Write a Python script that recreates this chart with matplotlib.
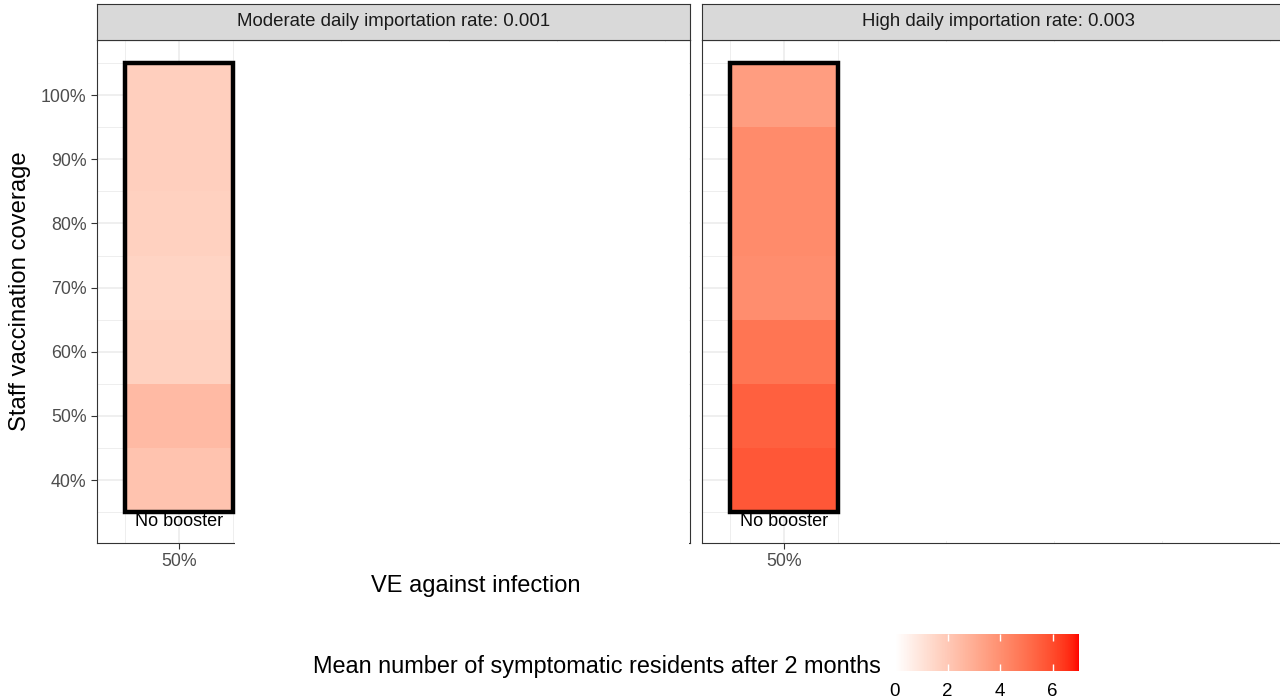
import numpy as np
import matplotlib
matplotlib.use("Agg")
from matplotlib import pyplot as plt
from matplotlib.colors import ListedColormap, Normalize
from matplotlib.patches import Rectangle
from matplotlib.cm import ScalarMappable

plt.rcParams['font.family'] = ['Liberation Sans', 'DejaVu Sans']

# data
ve = [50]
coverage = [40, 50, 60, 70, 80, 90, 100]
moderate = [2.2, 2.5, 1.7, 1.6, 1.7, 1.75, 1.75]
high = [5.7, 5.45, 4.85, 4.05, 4.15, 4.15, 3.55]
panel_titles = ["Moderate daily importation rate: 0.001",
                "High daily importation rate: 0.003"]
cbar_ticks = [0, 2, 4, 6]
vmin, vmax = 0, 7.0


def lab2rgb(L, a, b):
    fy = (L + 16) / 116
    fx = fy + a / 500
    fz = fy - b / 200
    def finv(t):
        return np.where(t > 6 / 29, t ** 3, 3 * (6 / 29) ** 2 * (t - 4 / 29))
    X = 0.95047 * finv(fx)
    Y = finv(fy)
    Z = 1.08883 * finv(fz)
    M = np.array([[3.2406, -1.5372, -0.4986],
                  [-0.9689, 1.8758, 0.0415],
                  [0.0557, -0.2040, 1.0570]])
    rgb = M @ np.vstack([X, Y, Z])
    rgb = np.where(rgb <= 0.0031308, 12.92 * rgb, 1.055 * np.abs(rgb) ** (1 / 2.4) - 0.055)
    return np.clip(rgb.T, 0, 1)


# white -> red, interpolated in Lab like ggplot's scale_fill_gradient
t = np.linspace(0, 1, 256)
cmap = ListedColormap(lab2rgb(100 - 46.76 * t, 80.09 * t, 67.20 * t))
norm = Normalize(vmin, vmax)

W, H = 1280, 698
fig = plt.figure(figsize=(W / 100, H / 100), dpi=100)

xe = np.array([ve[0] - 5] + [v + 5 for v in ve])
ye = np.array([coverage[0] - 5] + [c + 5 for c in coverage])

lefts = [97, 702]
covers = [(0.232, -0.1, 0.9985), (0.2327, 0.004, 1.1)]
for i, (vals, title) in enumerate(zip([moderate, high], panel_titles)):
    left = lefts[i]
    ax = fig.add_axes([left / W, 1 - 543 / H, 593 / W, 503 / H])
    ax.set_xlim(42.4, 97.3)
    ax.set_ylim(30.2, 108.6)
    ax.set_xticks([50])
    ax.set_xticklabels(["50%"])
    ax.set_xticks(np.arange(45, 100, 10), minor=True)
    ax.set_yticks(coverage)
    ax.set_yticks(np.arange(35, 110, 10), minor=True)
    ax.set_yticklabels(["%d%%" % c for c in coverage])
    ax.grid(True, which='major', color='#EBEBEB', lw=1.1)
    ax.grid(True, which='minor', color='#EBEBEB', lw=0.6)
    ax.set_axisbelow(True)
    for s in ax.spines.values():
        s.set_color('#333333')
        s.set_linewidth(0.8)
    ax.tick_params(which='minor', length=0)
    ax.tick_params(which='major', length=4, color='#333333', width=0.8,
                   labelsize=12.8, labelcolor='#4D4D4D', pad=3.5)
    if i == 1:
        ax.tick_params(axis='y', which='major', length=0, labelleft=False)

    C = np.array(vals).reshape(-1, 1)
    ax.pcolormesh(xe, ye, C, cmap=cmap, norm=norm, zorder=1)

    x0, y0, x1 = covers[i]
    ax.add_patch(Rectangle((x0, y0), x1 - x0, 0.996 - y0, transform=ax.transAxes,
                           facecolor='white', edgecolor='none', zorder=3, clip_on=False))
    ax.add_patch(Rectangle((xe[0], ye[0]), xe[-1] - xe[0], ye[-1] - ye[0],
                           facecolor='none', edgecolor='black', lw=3.2, zorder=4))
    ax.text(ve[0], 33.6, "No booster", ha='center', va='center', fontsize=13,
            color='black', zorder=5)

    sax = fig.add_axes([left / W, 1 - 40 / H, 593 / W, 36 / H])
    sax.set_facecolor('#D9D9D9')
    sax.set_xticks([])
    sax.set_yticks([])
    for s in sax.spines.values():
        s.set_color('#333333')
        s.set_linewidth(0.8)
    sax.text(0.5, 0.5, title, ha='center', va='center', fontsize=13.4,
             color='#1A1A1A', transform=sax.transAxes)

fig.text(20 / W, 1 - 291 / H, "Staff vaccination coverage", rotation=90,
         ha='center', va='center', fontsize=17.2)
fig.text(476 / W, 1 - 586 / H, "VE against infection", ha='center', va='center',
         fontsize=17)
cax = fig.add_axes([895 / W, 1 - 671 / H, 184 / W, 37 / H])
cb = fig.colorbar(ScalarMappable(norm=norm, cmap=cmap), cax=cax, orientation='horizontal')
cb.outline.set_visible(False)
cb.set_ticks(cbar_ticks)
cax.tick_params(direction='in', length=5, color='white', width=1, top=True,
                bottom=True, labelsize=13.5, pad=9)
fig.text(881 / W, 1 - 667 / H, "Mean number of symptomatic residents after 2 months",
         ha='right', va='center', fontsize=16.9)

fig.savefig("out.png", dpi=100)
